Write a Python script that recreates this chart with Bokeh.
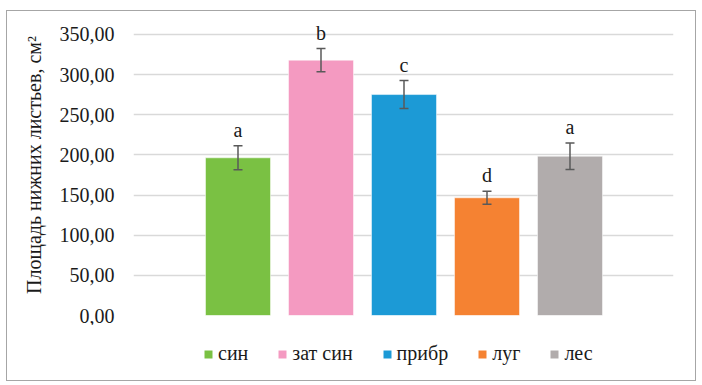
from bokeh.plotting import figure
from bokeh.layouts import column
from bokeh.models import (ColumnDataSource, Whisker, TeeHead, Legend, LegendItem,
                          FixedTicker, Range1d)
from bokeh.embed import file_html
from bokeh.resources import INLINE
from bokeh.core.properties import value

categories = ["син", "зат син", "прибр", "луг", "лес"]
means = [196.4, 318.0, 275.2, 146.6, 198.4]
errors = [15.0, 14.5, 17.4, 8.0, 16.4]
letters = ["a", "b", "c", "d", "a"]
colors = ["#7AC143", "#F49AC1", "#1C9AD6", "#F58232", "#B1ACAC"]
yticks = [0, 50, 100, 150, 200, 250, 300, 350]
ytick_labels = ["0,00", "50,00", "100,00", "150,00", "200,00", "250,00", "300,00", "350,00"]
y_label = "Площадь нижних листьев, см²"

FONT = "Liberation Serif"

xs = list(range(len(categories)))
src = ColumnDataSource(dict(
    x=xs, top=means, color=colors, cat=categories, letter=letters,
    upper=[m + e for m, e in zip(means, errors)],
    lower=[m - e for m, e in zip(means, errors)],
))

p = figure(width=688, height=314, output_backend="svg", toolbar_location=None,
           x_range=Range1d(-1.259, 5.247), y_range=Range1d(0, 374.9),
           x_axis_location=None,
           min_border_left=126, min_border_right=22, min_border_top=3, min_border_bottom=10)
p.outline_line_color = None
p.background_fill_color = "white"
p.border_fill_color = "white"
p.xgrid.visible = False
p.ygrid.grid_line_color = "#d9d9d9"
p.ygrid.grid_line_width = 1.3
p.ygrid.ticker = FixedTicker(ticks=yticks)

p.yaxis.ticker = FixedTicker(ticks=yticks)
p.yaxis.major_label_overrides = dict(zip(yticks, ytick_labels))
p.yaxis.axis_line_color = None
p.yaxis.major_tick_line_color = None
p.yaxis.minor_tick_line_color = None
p.yaxis.major_label_standoff = 13
p.yaxis.major_label_text_font = FONT
p.yaxis.major_label_text_font_size = "20px"
p.yaxis.major_label_text_color = "#1a1a1a"
p.yaxis.axis_label = y_label
p.yaxis.axis_label_text_font = FONT
p.yaxis.axis_label_text_font_size = "20px"
p.yaxis.axis_label_text_font_style = "normal"
p.yaxis.axis_label_text_color = "#1a1a1a"
p.yaxis.axis_label_standoff = 12

bars = p.vbar(x="x", top="top", width=0.783, bottom=0, source=src,
              fill_color="color", line_color="white", line_width=0.5)

w = Whisker(base="x", upper="upper", lower="lower", source=src, level="overlay",
            line_color="#595959", line_width=1.5,
            upper_head=TeeHead(size=9, line_color="#595959", line_width=1.5),
            lower_head=TeeHead(size=9, line_color="#595959", line_width=1.5))
p.add_layout(w)

p.text(x="x", y="upper", text="letter", source=src, text_align="center",
       text_baseline="bottom", y_offset=-5, text_font=value(FONT),
       text_font_size="20px", text_color="#1a1a1a")

# legend strip below the chart
lg = figure(width=688, height=55, output_backend="svg", toolbar_location=None,
            x_range=Range1d(-1.259, 5.247), y_range=Range1d(0, 1),
            x_axis_location=None, y_axis_location=None,
            min_border_left=0, min_border_right=0, min_border_top=0, min_border_bottom=0)
lg.outline_line_color = None
lg.background_fill_color = "white"
lg.border_fill_color = "white"
lg.xgrid.visible = False
lg.ygrid.visible = False

items = []
for i, (c, col) in enumerate(zip(categories, colors)):
    # zero-size proxy bar, only used to draw the legend swatch
    r = lg.vbar(x=[xs[i]], top=[0], bottom=[0], width=0, fill_color=col, line_color=None)
    items.append(LegendItem(label=c, renderers=[r]))
legend = Legend(items=items, orientation="horizontal", location=(70, 15),
                glyph_width=10, glyph_height=10, label_standoff=5, spacing=29,
                label_text_font=FONT, label_text_font_size="20px",
                label_text_color="#1a1a1a", border_line_color=None,
                background_fill_alpha=0, padding=0, margin=0)
lg.add_layout(legend, "center")

layout = column(p, lg, spacing=0)
layout.styles = {"border": "1px solid #a6a6a6", "margin-left": "6px", "margin-top": "10px"}

open("out.html", "w").write(file_html(layout, INLINE))
